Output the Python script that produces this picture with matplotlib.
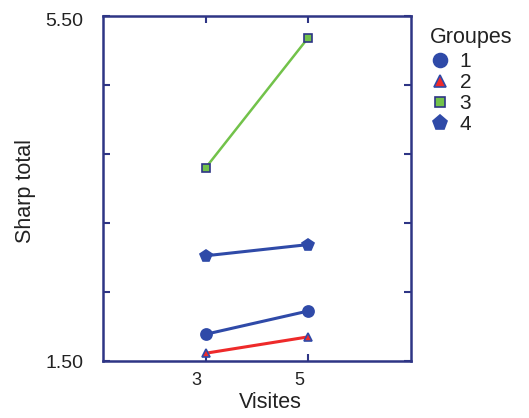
import matplotlib
matplotlib.use("Agg")
import matplotlib.pyplot as plt
import matplotlib.transforms as mtransforms

plt.rcParams['font.family'] = ['Liberation Sans', 'DejaVu Sans']

visites = [3, 5]
groupes = ['1', '2', '3', '4']
g1 = [1.81, 2.08]
g2 = [1.59, 1.78]
g3 = [3.74, 5.25]
g4 = [2.72, 2.85]
yticks = [1.5, 2.3, 3.1, 3.9, 4.7, 5.5]
ytick_labels = ['1.50', '', '', '', '', '5.50']

navy = '#2e3585'
blue = '#2f4aa8'
red = '#ee2a2a'
green = '#72c24a'
txt = '#222222'

fig = plt.figure(figsize=(5.29, 4.18), dpi=100)
ax = fig.add_axes([103/529, 1-361/418, (411-103)/529, (361-16)/418])

series = [
    (g1, 'o', blue, blue, blue, 8, 10, 2.2),
    (g2, '^', red, blue, red, 6, 8, 2.2),
    (g3, 's', green, navy, green, 5.5, 7, 1.8),
    (g4, 'p', blue, blue, blue, 8.5, 11, 2.2),
]
handles = []
for (vals, mk, lc, ec, fc, ms, lms, lw), name in zip(series, groupes):
    ax.plot(visites, vals, color=lc, lw=lw, zorder=2)
    ax.plot(visites, vals, ls='none', marker=mk, markersize=ms,
            markerfacecolor=fc, markeredgecolor=ec, markeredgewidth=1.2, zorder=3)
    h, = ax.plot([], [], ls='none', marker=mk, markersize=lms,
                 markerfacecolor=fc, markeredgecolor=ec, markeredgewidth=1.2, label=name)
    handles.append(h)

ax.set_xlim(1, 7)
ax.set_ylim(1.5, 5.5)
ax.set_xticks(visites)
ax.set_yticks(yticks)
ax.set_yticklabels(ytick_labels)
for s in ax.spines.values():
    s.set_color(navy)
    s.set_linewidth(1.8)
ax.tick_params(axis='both', direction='in', length=5, width=1.5, color=navy,
               top=True, right=True, labelcolor=txt)
ax.tick_params(axis='x', pad=8, labelsize=13)
ax.tick_params(axis='y', pad=14, labelsize=14)
off = mtransforms.ScaledTranslation(-9/100, 0, fig.dpi_scale_trans)
for lbl in ax.get_xticklabels():
    lbl.set_transform(lbl.get_transform() + off)
ylbls = ax.get_yticklabels()
top_off = mtransforms.ScaledTranslation(0, -4/100, fig.dpi_scale_trans)
ylbls[-1].set_transform(ylbls[-1].get_transform() + top_off)

ax.set_xlabel('Visites', fontsize=15.5, color=txt, va='center')
ax.xaxis.set_label_coords((270-103)/308, -(403-361)/345)
ax.set_ylabel('Sharp total', fontsize=15.5, color=txt, va='center')
ax.yaxis.set_label_coords(-(103-25)/308, (361-191)/345)

leg = fig.legend(handles=handles, title='Groupes', loc='upper left',
                 bbox_to_anchor=(419/529, 1-17/418), frameon=False,
                 fontsize=15, title_fontsize=15.5, handletextpad=0.45,
                 labelspacing=0.1, borderpad=0, handlelength=1.0)
leg._legend_box.align = 'left'
leg._legend_box.sep = 2.5
for t in leg.get_texts():
    t.set_color(txt)
leg.get_title().set_color(txt)

fig.savefig('out.png', dpi=100)
